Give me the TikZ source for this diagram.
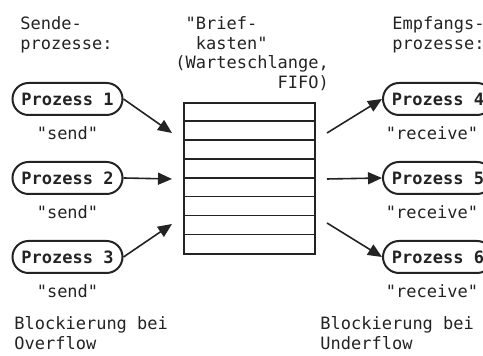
\documentclass[tikz,border=0pt]{standalone}
\usepackage{fontspec}
\setmonofont{DejaVu Sans Mono}
\usetikzlibrary{positioning, arrows.meta}
\definecolor{tinta}{HTML}{232323}

\begin{document}
\begin{tikzpicture}[x=0.5pt, y=-0.5pt,
			font=\ttfamily\fontsize{8.5}{9.9}\selectfont, text=tinta,
			proz/.style={rounded corners=8pt, draw=tinta, line width=1pt, inner sep=0pt,
			             minimum width=55pt, minimum height=16pt,
			             font=\ttfamily\bfseries\fontsize{8.5}{9.9}\selectfont},
			etikett/.style={inner sep=0pt, align=left},
			pfeil/.style={-{Triangle[length=7pt, width=6pt]}, draw=tinta, line width=0.8pt}]
			\useasboundingbox (0,0) rectangle (483,356);

			\node[etikett, anchor=north west] (sende) at (20,16) {Sende-\\prozesse:};
			\node[etikett, anchor=north west] (empf) at (392,16) {Empfangs-\\prozesse:};
			\node[etikett, anchor=north west] (brief) at (175,16)
				{\hphantom{x}"Brief-\\\hphantom{xx}kasten"\\(Warteschlange,\\\hphantom{xxxxxxxxxx}FIFO)};

			\node[draw=tinta, line width=0.75pt, minimum width=65.5pt, minimum height=75.5pt,
			      inner sep=0pt] (kasten) at (249.5,178.5) {};
			\foreach \i in {1,...,7}
				\draw[tinta, line width=0.75pt]
					([yshift=-\i*9.44pt]kasten.north west) -- ([yshift=-\i*9.44pt]kasten.north east);

			\node[proz] (p1) at (67.5,99) {Prozess 1};
			\node[proz] (p2) at (67.5,178) {Prozess 2};
			\node[proz] (p3) at (67.5,257) {Prozess 3};
			\node[proz] (p4) at (438,99) {Prozess 4};
			\node[proz] (p5) at (438,178) {Prozess 5};
			\node[proz] (p6) at (438,257) {Prozess 6};

			\node[below=2pt of p1] (s1) {"send"};
			\node[below=2pt of p2] (s2) {"send"};
			\node[below=2pt of p3] (s3) {"send"};
			\node[below=2pt of p4, xshift=-3pt] (r4) {"receive"};
			\node[below=2pt of p5, xshift=-3pt] (r5) {"receive"};
			\node[below=2pt of p6, xshift=-3pt] (r6) {"receive"};

			\coordinate (ein1) at (172,133);
			\coordinate (ein2) at (172,179);
			\coordinate (ein3) at (172,224);
			\coordinate (aus4) at (327,133);
			\coordinate (aus5) at (327,179);
			\coordinate (aus6) at (327,223);

			\draw[pfeil] (p1.east) -- (ein1);
			\draw[pfeil] (p2.east) -- (ein2);
			\draw[pfeil] (p3.east) -- (ein3);
			\draw[pfeil] (aus4) -- (p4.west);
			\draw[pfeil] (aus5) -- (p5.west);
			\draw[pfeil] (aus6) -- (p6.west);

			\node[etikett, anchor=north west] (ovf) at (14,316) {Blockierung bei\\Overflow};
			\node[etikett, anchor=north west] (unf) at (320,316) {Blockierung bei\\Underflow};

		\end{tikzpicture}
\end{document}
